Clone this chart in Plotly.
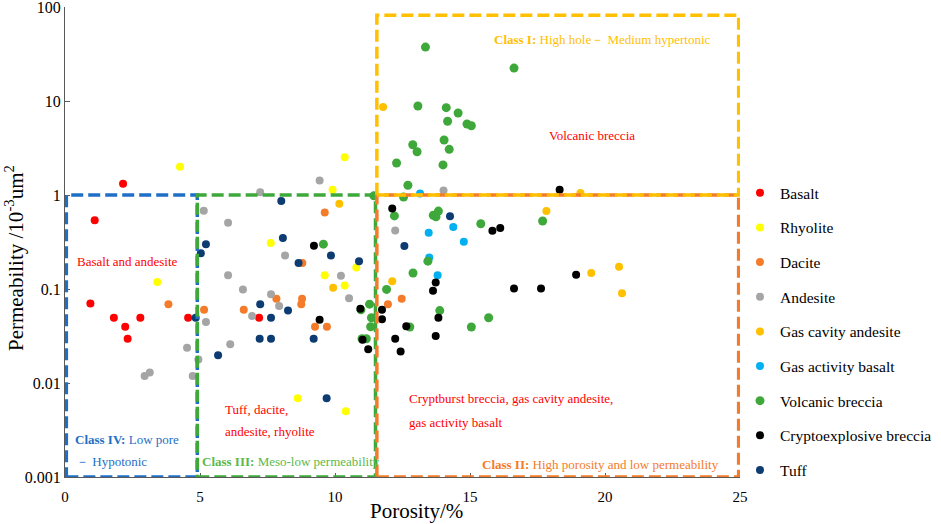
import plotly.graph_objects as go

# ---------------- data (porosity %, permeability 10^-3 um^2) ----------------
basalt_x = [2.15, 1.1, 0.94, 1.81, 2.23, 2.32, 2.79, 4.56, 7.19]
basalt_y = [1.32, 0.54, 0.07, 0.0495, 0.0397, 0.0296, 0.0495, 0.0495, 0.0495]

rhyolite_x = [4.26, 10.36, 9.91, 7.62, 3.42, 9.62, 10.36, 10.79, 8.62, 10.4]
rhyolite_y = [2.0, 2.52, 1.14, 0.309, 0.119, 0.14, 0.109, 0.169, 0.0069, 0.005]

dacite_x = [9.62, 3.83, 5.15, 6.62, 7.83, 8.79, 8.78, 8.75, 9.26, 9.7, 11.96, 12.47]
dacite_y = [0.65, 0.069, 0.06, 0.06, 0.079, 0.189, 0.079, 0.069, 0.0397, 0.0397, 0.069, 0.079]

andesite_x = [7.23, 9.43, 5.14, 6.04, 14.02, 12.23, 8.15, 6.04, 6.59, 7.63, 7.93, 6.93,
              10.22, 10.52, 5.22, 6.12, 4.52, 4.94, 4.73, 2.95, 3.14]
andesite_y = [1.07, 1.43, 0.68, 0.507, 1.12, 0.42, 0.228, 0.14, 0.099, 0.088, 0.066, 0.0515,
              0.138, 0.08, 0.0446, 0.0258, 0.0237, 0.0178, 0.0119, 0.0119, 0.0129]

gas_andesite_x = [11.78, 10.16, 19.09, 17.83, 9.93, 12.12, 19.49, 20.52, 20.63]
gas_andesite_y = [8.63, 0.81, 1.05, 0.675, 0.103, 0.121, 0.148, 0.173, 0.09]

gas_basalt_x = [13.15, 13.47, 14.38, 14.77, 13.49, 13.8]
gas_basalt_y = [1.04, 0.397, 0.457, 0.318, 0.217, 0.14]

volcanic_x = [13.35, 16.63, 13.07, 14.12, 14.56, 14.17, 14.89, 15.05, 14.04, 12.88, 13.04,
              14.23, 12.28, 14.0, 12.7, 12.54, 11.44, 12.2, 13.64, 13.74, 13.83, 15.4, 17.69,
              9.57, 11.91, 11.28, 10.96, 11.35, 11.32, 11.0, 11.16, 12.89, 13.44, 13.88,
              12.77, 15.05, 15.69]
volcanic_y = [37.5, 22.4, 8.85, 8.5, 7.45, 6.09, 5.69, 5.46, 3.85, 3.43, 2.89,
              3.06, 2.19, 2.09, 1.27, 0.95, 0.98, 0.60, 0.61, 0.588, 0.675, 0.495, 0.529,
              0.3, 0.099, 0.069, 0.06, 0.0495, 0.0397, 0.0296, 0.0296, 0.148, 0.198, 0.059,
              0.0394, 0.0394, 0.0495]

crypto_x = [18.32, 12.12, 15.83, 16.12, 9.22, 9.43, 10.94, 11.02, 11.23, 11.74, 11.74,
            12.64, 12.23, 12.43, 13.73, 13.63, 13.83, 13.73, 16.63, 17.63, 18.93]
crypto_y = [1.14, 0.72, 0.417, 0.446, 0.289, 0.047, 0.0618, 0.0289, 0.0229, 0.06, 0.0477,
            0.0402, 0.0296, 0.0217, 0.117, 0.096, 0.0495, 0.0316, 0.101, 0.101, 0.142]

tuff_x = [8.01, 5.22, 8.07, 5.03, 8.65, 9.85, 10.89, 7.23, 7.63, 8.26, 4.84, 7.21, 7.63,
          9.21, 5.67, 9.69, 14.26, 12.57]
tuff_y = [0.863, 0.3, 0.349, 0.24, 0.189, 0.228, 0.198, 0.069, 0.0495, 0.059, 0.0495,
          0.0296, 0.0296, 0.0296, 0.0198, 0.0069, 0.593, 0.286]

series = [
    ("Basalt", basalt_x, basalt_y, "#FF0000"),
    ("Rhyolite", rhyolite_x, rhyolite_y, "#FFFF00"),
    ("Dacite", dacite_x, dacite_y, "#F47B2A"),
    ("Andesite", andesite_x, andesite_y, "#A5A5A5"),
    ("Gas cavity andesite", gas_andesite_x, gas_andesite_y, "#FFC000"),
    ("Gas activity basalt", gas_basalt_x, gas_basalt_y, "#00B0F0"),
    ("Volcanic breccia", volcanic_x, volcanic_y, "#3EA83A"),
    ("Cryptoexplosive breccia", crypto_x, crypto_y, "#000000"),
    ("Tuff", tuff_x, tuff_y, "#0D3C73"),
]

y_tickvals = [0.001, 0.01, 0.1, 1, 10, 100]
y_ticktext = ["0.001", "0.01", "0.1", "1", "10", "100"]
x_tickvals = [0, 5, 10, 15, 20, 25]

FONT = "Liberation Serif, Times New Roman, serif"

fig = go.Figure()
for i, (name, xs, ys, col) in enumerate(series):
    size = 9 if name == "Volcanic breccia" else 8
    fig.add_trace(go.Scatter(
        x=xs, y=ys, mode="markers", name=name, legendgroup=f"g{i}",
        marker=dict(color=col, size=size, line=dict(width=0)),
    ))

# dashed class boxes (x0, x1, y0, y1, colour)
boxes = [
    (0.05, 4.9, 0.001, 1.0, "#1F6FC6"),
    (4.9, 11.5, 0.001, 1.0, "#3EA83A"),
    (11.55, 24.95, 0.001, 1.0, "#F47B2A"),
    (11.55, 24.95, 1.0, 82, "#FFC000"),
]
for x0, x1, y0, y1, col in boxes:
    fig.add_shape(type="rect", xref="x", yref="y", x0=x0, x1=x1, y0=y0, y1=y1,
                  line=dict(color=col, width=3.5, dash="12px,5px"),
                  fillcolor="rgba(0,0,0,0)", layer="above")

def ann(x, ly, text, color, xanchor="left"):
    fig.add_annotation(x=x, y=ly, xref="x", yref="y", text=text, showarrow=False,
                       xanchor=xanchor, yanchor="middle",
                       font=dict(family=FONT, size=13, color=color))

ann(19.9, 1.65, "<b>Class I:</b> High hole－ Medium hypertonic", "#FFC000", "center")
ann(19.5, 0.638, "Volcanic breccia", "#FF0000", "center")
ann(2.33, -0.702, "Basalt and andesite", "#FF0000", "center")
ann(5.85, -2.287, "Tuff, dacite,", "#FF0000")
ann(5.85, -2.511, "andesite, rhyolite", "#FF0000")
ann(0.28, -2.606, "<b>Class IV:</b> Low pore", "#1F6FC6")
ann(0.35, -2.83, "－ Hypotonic", "#1F6FC6")
ann(5.0, -2.84, "<b>Class III:</b> Meso-low permeability", "#5DB94A")
ann(12.67, -2.16, "Cryptburst breccia, gas cavity andesite,", "#FF0000")
ann(12.67, -2.415, "gas activity basalt", "#FF0000")
ann(15.37, -2.872, "<b>Class II:</b> High porosity and low permeability", "#F47B2A")

# axis titles placed as annotations (paper coordinates)
fig.add_annotation(x=-0.074, y=0.466, xref="paper", yref="paper", xanchor="center",
                   yanchor="middle", textangle=-90, showarrow=False,
                   text="Permeability /10<sup>-3</sup>um<sup>2</sup>",
                   font=dict(family=FONT, size=21, color="#000000"))
fig.add_annotation(x=0.52, y=-0.072, xref="paper", yref="paper", xanchor="center",
                   yanchor="middle", showarrow=False, text="Porosity/%",
                   font=dict(family=FONT, size=21, color="#000000"))

fig.update_layout(
    width=941, height=524,
    margin=dict(l=65, r=201, t=7, b=47, autoexpand=False),
    paper_bgcolor="white", plot_bgcolor="white",
    font=dict(family=FONT, size=15, color="#000000"),
    showlegend=True,
    legend=dict(x=1.0, y=0.64, xanchor="left", yanchor="top",
                font=dict(family=FONT, size=15.5, color="#000000"),
                tracegroupgap=11.5, itemwidth=30, bgcolor="rgba(0,0,0,0)"),
)
fig.update_xaxes(
    range=[0, 25], tickvals=x_tickvals, showgrid=False, zeroline=False,
    showline=True, linecolor="#595959", linewidth=1, ticks="inside", ticklen=4,
    tickcolor="#595959", tickfont=dict(family=FONT, size=15, color="#000000"),
    automargin=False, ticklabelstandoff=6,
)
fig.update_yaxes(
    type="log", range=[-3, 2.0005], tickvals=y_tickvals, ticktext=y_ticktext,
    showgrid=False, zeroline=False, showline=True, linecolor="#595959", linewidth=1,
    ticks="inside", ticklen=5, tickcolor="#595959", ticklabeloverflow="allow",
    tickfont=dict(family=FONT, size=16, color="#000000"), automargin=False,
)

fig.write_html("out.html", config={"displayModeBar": False},
               post_script="document.body.style.margin='0px';")
